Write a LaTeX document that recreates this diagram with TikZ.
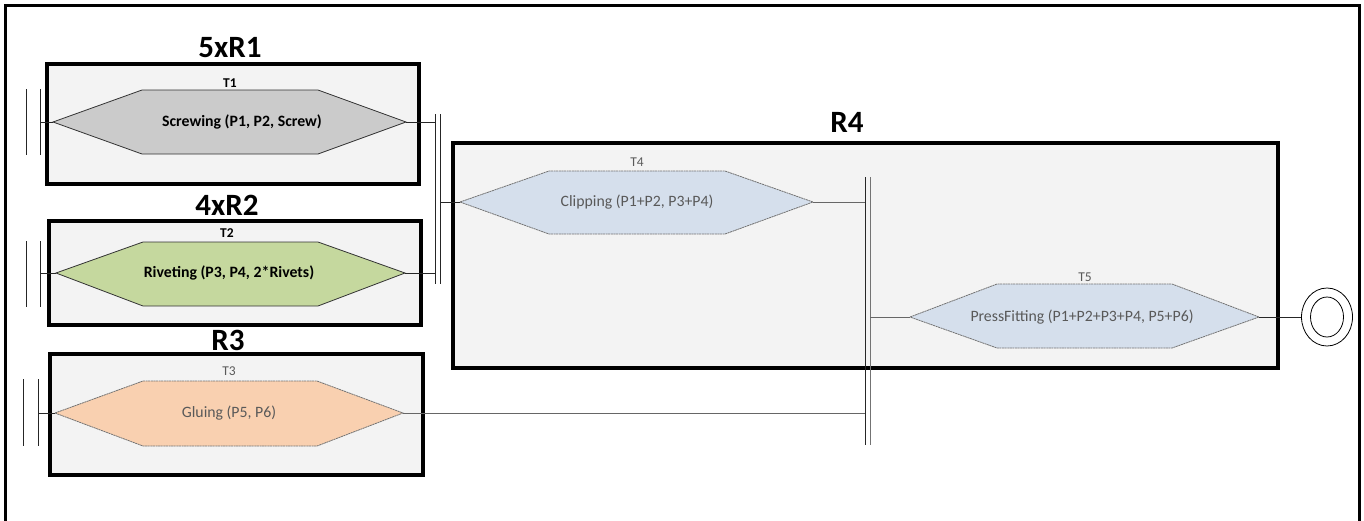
\documentclass[tikz,border=0pt]{standalone}
\usepackage{fontspec}
\setmainfont{Carlito}
\usetikzlibrary{shapes.geometric}
\definecolor{boxfill}{HTML}{F3F3F3}
\definecolor{hexgray}{HTML}{CBCBCB}
\definecolor{hexgreen}{HTML}{C5D89E}
\definecolor{hexorange}{HTML}{F9D0B0}
\definecolor{hexblue}{HTML}{D5DFEC}
\definecolor{txtgray}{HTML}{595959}
\tikzset{
  rbox/.style={draw=black, line width=3.5pt, fill=boxfill},
  title/.style={font=\fontsize{31}{34}\selectfont\bfseries, inner sep=0pt},
  tlabel/.style={font=\fontsize{13.5}{15}\selectfont\bfseries, inner sep=0pt},
  tlabelg/.style={font=\fontsize{13.5}{15}\selectfont, text=txtgray, inner sep=0pt},
  hexdark/.style={draw=black!80, line width=0.8pt},
  hexlight/.style={draw=black!55, line width=0.8pt, dash pattern=on 2pt off 0.6pt},
  maintxt/.style={font=\fontsize{15.8}{18}\selectfont\bfseries, inner sep=0pt},
  maintxtg/.style={font=\fontsize{15.8}{18}\selectfont, text=txtgray, inner sep=0pt},
  bar/.style={draw=black!85, line width=0.8pt},
  conn/.style={draw=black!85, line width=0.8pt},
  conng/.style={draw=black!60, line width=0.8pt},
}
\begin{document}
\begin{tikzpicture}[x=1pt,y=-1pt]
\useasboundingbox (0,0) rectangle (1364,520);
% outer frame
\draw[line width=3pt] (5,525) -- (5,5) -- (1359,5) -- (1359,525);

% resource boxes
\draw[rbox] (47,64) rectangle (419,184);
\draw[rbox] (49,221) rectangle (421,325);
\draw[rbox] (50,354) rectangle (423,475);
\draw[rbox] (453,143) rectangle (1278,368);

\node[title] (r1) at (230,48) {5xR1};
\node[title] (r2) at (227,205) {4xR2};
\node[title] (r3) at (228,340) {R3};
\node[title] (r4) at (847,122) {R4};

% hexagons
\draw[hexdark, fill=hexgray] (53,122) coordinate (t1l) -- (142,90) -- (318,90) -- (406,122) coordinate (t1r) -- (318,154) -- (142,154) -- cycle;
\draw[hexdark, fill=hexgreen] (56,273) coordinate (t2l) -- (143,242) -- (318,242) -- (405,273) coordinate (t2r) -- (318,306) -- (143,306) -- cycle;
\draw[hexlight, fill=hexorange] (55,413) coordinate (t3l) -- (143,381) -- (317,381) -- (403,413) coordinate (t3r) -- (317,446) -- (143,446) -- cycle;
\draw[hexlight, fill=hexblue] (460,202) coordinate (t4l) -- (549,171) -- (725,171) -- (813,202) coordinate (t4r) -- (725,234) -- (549,234) -- cycle;
\draw[hexlight, fill=hexblue] (910,317) coordinate (t5l) -- (997,284) -- (1172,284) -- (1259,317) coordinate (t5r) -- (1172,348) -- (997,348) -- cycle;

% labels
\node[tlabel] (l1) at (230,83) {T1};
\node[maintxt] (m1) at (242,122) {Screwing (P1, P2, Screw)};
\node[tlabel] (l2) at (227,233) {T2};
\node[maintxt] (m2) at (229,273) {Riveting (P3, P4, 2*Rivets)};
\node[tlabelg] (l3) at (229,371) {T3};
\node[maintxtg] (m3) at (229,413) {Gluing (P5, P6)};
\node[tlabelg] (l4) at (637,162) {T4};
\node[maintxtg] (m4) at (637,202) {Clipping (P1+P2, P3+P4)};
\node[tlabelg] (l5) at (1085,277) {T5};
\node[maintxtg] (m5) at (1082,317) {PressFitting (P1+P2+P3+P4, P5+P6)};

% synchronisation bars
\draw[bar] (26,89) -- (26,155);
\draw[bar] (40,89) -- (40,155);
\coordinate (b1) at (40,122);
\draw[bar] (26,241) -- (26,307);
\draw[bar] (40,241) -- (40,307);
\coordinate (b2) at (40,273);
\draw[bar] (23,379) -- (23,446);
\draw[bar] (38,379) -- (38,446);
\coordinate (b3) at (38,413);

\draw[bar] (435,114) -- (435,284);
\draw[bar] (440,114) -- (440,284);
\coordinate (j1a) at (435,122);
\coordinate (j1b) at (435,273);
\coordinate (j1o) at (440,202);

\draw[bar] (865,177) -- (865,445);
\draw[bar, draw=black!55] (870,177) -- (870,445);
\coordinate (j2a) at (865,202);
\coordinate (j2b) at (865,413);
\coordinate (j2o) at (870,317);

% end state
\node[draw, ellipse, line width=0.8pt, minimum width=51pt, minimum height=58pt, inner sep=0pt] (endo) at (1327,317) {};
\node[draw, ellipse, line width=0.8pt, minimum width=33pt, minimum height=40pt, inner sep=0pt] (endi) at (1327,317) {};

% connectors
\draw[conn] (b1) -- (t1l);
\draw[conn] (t1r) -- (j1a);
\draw[conn] (b2) -- (t2l);
\draw[conn] (t2r) -- (j1b);
\draw[conn] (b3) -- (t3l);
\draw[conng] (t3r) -- (j2b);
\draw[conn] (j1o) -- (t4l);
\draw[conng] (t4r) -- (j2a);
\draw[conng] (j2o) -- (t5l);
\draw[conn] (t5r) -- (endo.west);
\end{tikzpicture}
\end{document}
